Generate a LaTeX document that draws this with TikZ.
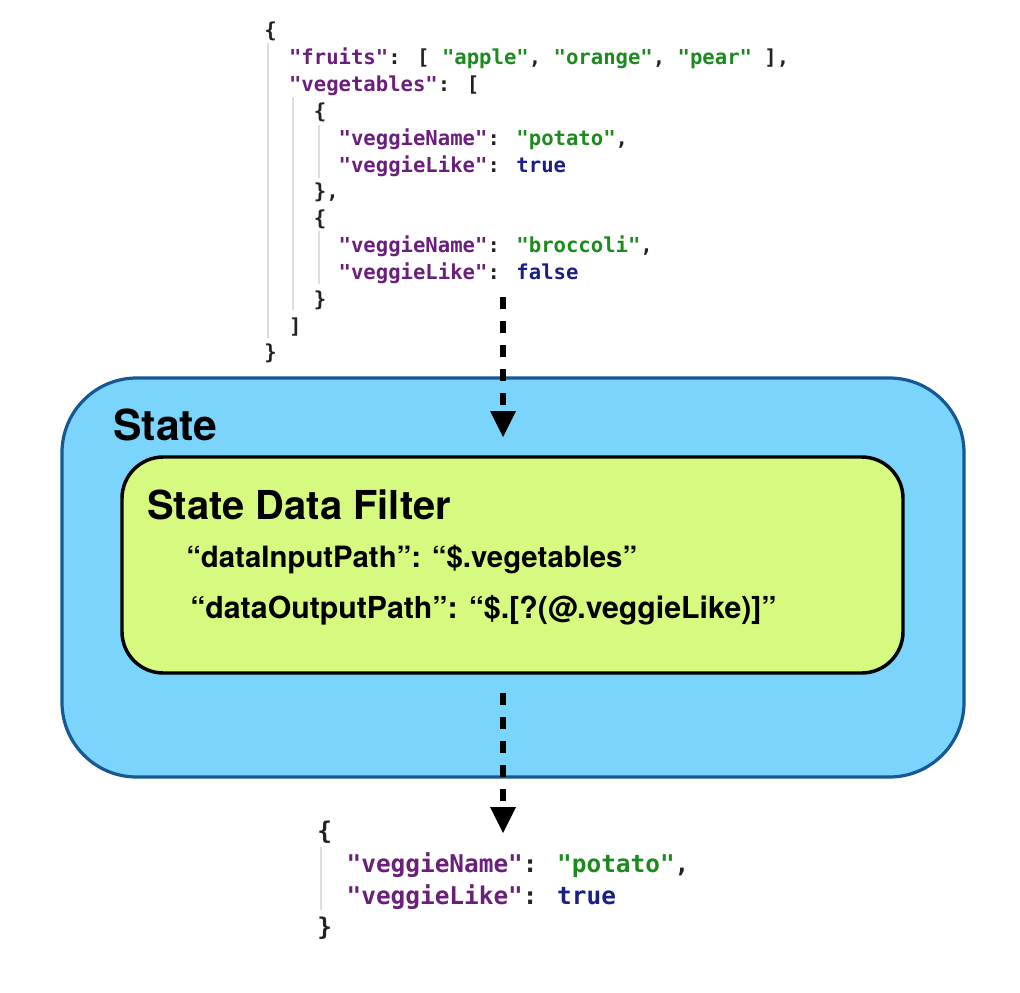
\documentclass[tikz,border=0pt]{standalone}
\usepackage{fontspec}
\setmainfont{TeX Gyre Heros}
\newfontfamily\jmono{DejaVu Sans Mono}
\usetikzlibrary{arrows.meta}
\definecolor{skyfill}{HTML}{7AD4FC}
\definecolor{skyline}{HTML}{165893}
\definecolor{limefill}{HTML}{D6F97F}
\definecolor{jkey}{HTML}{6B1F7C}
\definecolor{jstr}{HTML}{1D8A1D}
\definecolor{jbool}{HTML}{1A1F85}
\definecolor{jpun}{HTML}{222222}
\definecolor{jguide}{HTML}{DDDDDD}
\newcommand\jk[1]{\textcolor{jkey}{"#1"}}
\newcommand\js[1]{\textcolor{jstr}{"#1"}}
\newcommand\jb[1]{\textcolor{jbool}{#1}}
\newcommand\ind[1]{\hspace*{#1\fontcharwd\font`x}}
\tikzset{
  outerbox/.style={draw=skyline, fill=skyfill, line width=2.4pt, rounded corners=56pt, inner sep=0pt},
  innerbox/.style={draw=black, fill=limefill, line width=2.6pt, rounded corners=31pt, inner sep=0pt},
  jtop/.style={anchor=base west, inner sep=0pt, text=jpun, font={\jmono\bfseries\fontsize{15.45}{20}\selectfont}},
  jbot/.style={anchor=base west, inner sep=0pt, text=jpun, font={\jmono\bfseries\fontsize{18.3}{24}\selectfont}},
  guide/.style={draw=jguide, line width=1.5pt},
  flowarrow/.style={line width=4.5pt, dash pattern=on 9pt off 9pt, -{Triangle[length=19.5pt,width=19.5pt,line width=0pt]}},
  boxtext/.style={anchor=base west, inner sep=0pt, text=black},
}
\begin{document}
\begin{tikzpicture}[x=0.75pt, y=-0.75pt]
\useasboundingbox (0,0) rectangle (1020,992);
% guides of the top JSON
\draw[guide] (268,43) -- (268,338);
\draw[guide] (293,97) -- (293,310);
\draw[guide] (319,125) -- (319,178);
\draw[guide] (319,231) -- (319,284);
% top JSON
\node[jtop] (j1) at (264,37.5) {\{};
\node[jtop] (j2) at (264,64) {\ind{2}\jk{fruits}: [ \js{apple}, \js{orange}, \js{pear} ],};
\node[jtop] (j3) at (264,91) {\ind{2}\jk{vegetables}: [};
\node[jtop] (j4) at (264,118) {\ind{4}\{};
\node[jtop] (j5) at (264,145) {\ind{6}\jk{veggieName}: \js{potato},};
\node[jtop] (j6) at (264,172) {\ind{6}\jk{veggieLike}: \jb{true}};
\node[jtop] (j7) at (264,198) {\ind{4}\},};
\node[jtop] (j8) at (264,225) {\ind{4}\{};
\node[jtop] (j9) at (264,252) {\ind{6}\jk{veggieName}: \js{broccoli},};
\node[jtop] (j10) at (264,279) {\ind{6}\jk{veggieLike}: \jb{false}};
\node[jtop] (j11) at (264,306) {\ind{4}\}};
\node[jtop] (j12) at (264,333) {\ind{2}]};
\node[jtop] (j13) at (264,359) {\}};
% boxes
\node[outerbox, minimum width=676.5pt, minimum height=299.25pt] (state) at (513,577.5) {};
\node[innerbox, minimum width=585.75pt, minimum height=162pt] (filter) at (512.5,565) {};
\node[boxtext, font={\bfseries\fontsize{32}{36}\selectfont}] (statelbl) at (113,440) {State};
\node[boxtext, font={\bfseries\fontsize{29.9}{34}\selectfont}] (filterlbl) at (147,519) {State Data Filter};
\node[boxtext, font={\bfseries\fontsize{22}{26}\selectfont}] (inpath) at (186,567) {“dataInputPath”: “\$.vegetables”};
\node[boxtext, font={\bfseries\fontsize{22.7}{26}\selectfont}] (outpath) at (190,618) {“dataOutputPath”: “\$.[?(@.veggieLike)]”};
% bottom JSON
\draw[guide] (321,847) -- (321,910);
\node[jbot] (b1) at (317,839) {\{};
\node[jbot] (b2) at (317,872) {\ind{2}\jk{veggieName}: \js{potato},};
\node[jbot] (b3) at (317,904) {\ind{2}\jk{veggieLike}: \jb{true}};
\node[jbot] (b4) at (317,935) {\}};
% arrows
\coordinate (a1s) at (503,297);
\coordinate (a1e) at (503,437);
\coordinate (a2s) at (503,693);
\coordinate (a2e) at (503,833);
\draw[flowarrow] (a1s) -- (a1e);
\draw[flowarrow] (a2s) -- (a2e);
\end{tikzpicture}
\end{document}
